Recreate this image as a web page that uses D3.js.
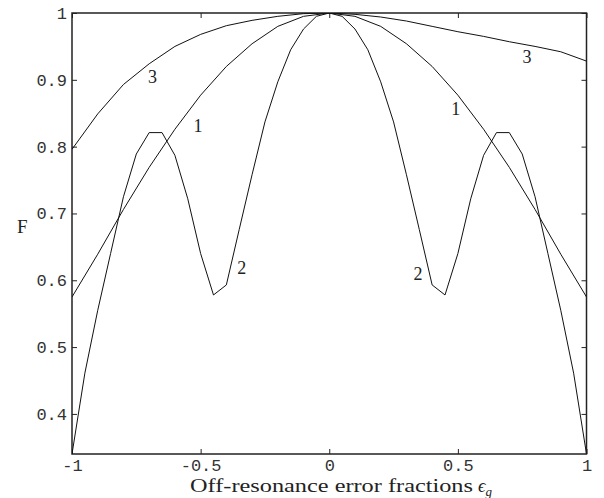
<!DOCTYPE html>
<html>
<head>
<meta charset="utf-8">
<script src="https://cdn.jsdelivr.net/npm/d3@7"></script>
<style>
  html, body { margin: 0; padding: 0; background: #fff; }
  svg { display: block; }
</style>
</head>
<body>
<div id="chart"></div>
<script>
// ---- data ----
const eps10 = [-1, -0.9, -0.8, -0.7, -0.6, -0.5, -0.4, -0.3, -0.2, -0.1, 0,
               0.1, 0.2, 0.3, 0.4, 0.5, 0.6, 0.7, 0.8, 0.9, 1];
const series1 = [0.575, 0.639, 0.706, 0.769, 0.826, 0.877, 0.920, 0.954, 0.980, 0.995, 1.0,
                 0.995, 0.980, 0.954, 0.920, 0.877, 0.826, 0.769, 0.706, 0.639, 0.575];
const series3 = [0.796, 0.849, 0.893, 0.924, 0.950, 0.968, 0.981, 0.989, 0.995, 0.999, 1.0,
                 0.998, 0.994, 0.988, 0.980, 0.972, 0.965, 0.957, 0.950, 0.942, 0.928];
const eps05 = [-1, -0.95, -0.9, -0.85, -0.8, -0.75, -0.7, -0.65, -0.6, -0.55, -0.5,
               -0.45, -0.4, -0.35, -0.3, -0.25, -0.2, -0.15, -0.1, -0.05, 0,
               0.05, 0.1, 0.15, 0.2, 0.25, 0.3, 0.35, 0.4, 0.45, 0.5,
               0.55, 0.6, 0.65, 0.7, 0.75, 0.8, 0.85, 0.9, 0.95, 1];
const series2 = [0.340, 0.461, 0.555, 0.640, 0.725, 0.789, 0.821, 0.821, 0.787, 0.722, 0.640,
                 0.578, 0.593, 0.676, 0.758, 0.837, 0.897, 0.945, 0.976, 0.995, 1.0,
                 0.995, 0.976, 0.945, 0.897, 0.837, 0.758, 0.676, 0.593, 0.578, 0.640,
                 0.722, 0.787, 0.821, 0.821, 0.789, 0.725, 0.640, 0.555, 0.461, 0.340];
const xTicks = [-1, -0.5, 0, 0.5, 1];
const xTickLabels = ["-1", "-0.5", "0", "0.5", "1"];
const yTicks = [0.4, 0.5, 0.6, 0.7, 0.8, 0.9, 1];
const yTickLabels = ["0.4", "0.5", "0.6", "0.7", "0.8", "0.9", "1"];
const curveLabels = [
  {text: "3", x: -0.687, y: 0.902},
  {text: "1", x: -0.51,  y: 0.828},
  {text: "2", x: -0.34,  y: 0.615},
  {text: "3", x: 0.769,  y: 0.931},
  {text: "1", x: 0.492,  y: 0.853},
  {text: "2", x: 0.345,  y: 0.606}
];
const xTitle = "Off-resonance error fractions";
const yTitle = "F";

// ---- layout ----
const W = 604, H = 498;
const margin = {left: 72, right: 17.5, top: 13, bottom: 44};
const iw = W - margin.left - margin.right;
const ih = H - margin.top - margin.bottom;

const svg = d3.select("#chart").append("svg").attr("width", W).attr("height", H);
const g = svg.append("g").attr("transform", `translate(${margin.left},${margin.top})`);

const x = d3.scaleLinear().domain([-1, 1]).range([0, iw]);
const y = d3.scaleLinear().domain([0.34, 1]).range([ih, 0]);

const monoFont = "'Liberation Mono', 'Courier New', monospace";
const serifFont = "'Liberation Serif', 'DejaVu Serif', serif";

// axes with inward ticks
const tickLen = 5;
const axB = g.append("g").attr("transform", `translate(0,${ih})`)
  .call(d3.axisBottom(x).tickValues(xTicks).tickFormat((d, i) => xTickLabels[i]).tickSizeInner(-tickLen).tickSizeOuter(0).tickPadding(5));
const axT = g.append("g")
  .call(d3.axisTop(x).tickValues(xTicks).tickFormat("").tickSizeInner(-tickLen).tickSizeOuter(0));
const axL = g.append("g")
  .call(d3.axisLeft(y).tickValues(yTicks).tickFormat((d, i) => yTickLabels[i]).tickSizeInner(-tickLen).tickSizeOuter(0).tickPadding(5));
const axR = g.append("g").attr("transform", `translate(${iw},0)`)
  .call(d3.axisRight(y).tickValues(yTicks).tickFormat("").tickSizeInner(-tickLen).tickSizeOuter(0));

[axB, axT, axL, axR].forEach(a => {
  a.select(".domain").remove();
  a.selectAll("line").attr("stroke", "#222").attr("stroke-width", 1);
  a.selectAll("text").attr("font-family", monoFont).attr("font-size", 17).attr("fill", "#333");
});

// frame
g.append("rect").attr("x", 0).attr("y", 0).attr("width", iw).attr("height", ih)
  .attr("fill", "none").attr("stroke", "#222").attr("stroke-width", 1.5);

// curves
const line = d3.line().x(d => x(d[0])).y(d => y(d[1]));
svg.append("defs").append("clipPath").attr("id", "clip")
  .append("rect").attr("width", iw).attr("height", ih);
const curves = g.append("g").attr("clip-path", "url(#clip)");
[[eps10, series1], [eps05, series2], [eps10, series3]].forEach(([xs, ys]) => {
  curves.append("path")
    .datum(xs.map((v, i) => [v, ys[i]]))
    .attr("d", line)
    .attr("fill", "none")
    .attr("stroke", "#111")
    .attr("stroke-width", 1)
    .attr("stroke-linejoin", "miter");
});

// curve labels
g.selectAll(".clabel").data(curveLabels).enter().append("text")
  .attr("x", d => x(d.x)).attr("y", d => y(d.y))
  .attr("text-anchor", "middle").attr("dominant-baseline", "middle")
  .attr("font-family", serifFont).attr("font-size", 18)
  .attr("fill", "#222")
  .text(d => d.text);

// axis titles
svg.append("text")
  .attr("x", 190).attr("y", 492)
  .attr("font-family", serifFont).attr("font-size", 18.5).attr("fill", "#222")
  .attr("textLength", 283).attr("lengthAdjust", "spacingAndGlyphs")
  .text(xTitle);
const sym = svg.append("text")
  .attr("x", 478).attr("y", 492)
  .attr("font-family", serifFont).attr("font-size", 18.5).attr("fill", "#222");
sym.append("tspan").attr("font-style", "italic").text("ϵ");
sym.append("tspan").attr("font-style", "italic").attr("font-size", 13).attr("dy", 4).text("g");

svg.append("text").attr("x", 17).attr("y", 233)
  .attr("font-family", serifFont).attr("font-size", 19).attr("fill", "#222")
  .text(yTitle);
</script>
</body>
</html>
